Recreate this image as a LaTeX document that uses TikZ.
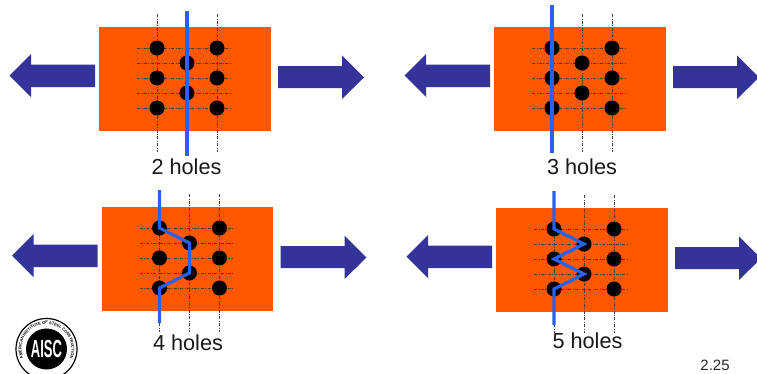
\documentclass[tikz,border=0pt]{standalone}
\usepackage{fontspec}
\setmainfont{Liberation Sans}
\usetikzlibrary{decorations.text}
\definecolor{plate}{RGB}{255,88,0}
\definecolor{force}{RGB}{51,51,153}
\definecolor{cut}{RGB}{40,96,240}
\tikzset{
  platebox/.style={fill=plate,minimum width=171.5pt,minimum height=104pt,inner sep=0pt,outer sep=0pt},
  hole/.style={circle,fill=black,minimum size=15pt,inner sep=0pt,outer sep=0pt},
  gridline/.style={black!75,line width=0.5pt,dash pattern=on 3pt off 1.5pt on 0.8pt off 1.5pt},
  cutline/.style={cut,line width=3.2pt,line join=miter},
  forcearrow/.style={force,fill=force,draw=none},
  caption/.style={font=\fontsize{21.7pt}{24pt}\selectfont,inner sep=0pt,text=black!90}
}
\begin{document}
\begin{tikzpicture}[x=1pt,y=-1pt]
\useasboundingbox (0,0) rectangle (757,373);
% the four plates, (\ox,\oy) is the top left corner of the plate
\foreach \n/\ox/\oy/\txt/\tx/\ty in {a/99/27/2 holes/186.5/167,b/494/27/3 holes/582/166.5,c/101.5/207/4 holes/188/343,d/496/208/5 holes/587.5/341}{
  \begin{scope}[shift={(\ox,\oy)}]
    \node[platebox,anchor=north west] (plate\n) at (0,0) {};
    % tension arrows
    \fill[forcearrow] (-4,37.5) -- (-68,37.5) -- (-68,27) -- (-89.5,48.5) -- (-68,70) -- (-68,60) -- (-4,60) -- cycle;
    \fill[forcearrow] (179,39) -- (243,39) -- (243,28.5) -- (265,50.5) -- (243,72) -- (243,61) -- (179,61) -- cycle;
    % gage and bolt lines
    \foreach \cx in {58,88,118}
      \draw[gridline] (\cx,-13) -- (\cx,125);
    \foreach \ry in {21,36,51,66,81}
      \draw[gridline] (38,\ry) -- (133,\ry);
    % holes
    \foreach \cx/\col in {58/1,118/3}
      \foreach \ry/\row in {21/1,51/3,81/5}
        \node[hole] (\n\col\row) at (\cx,\ry) {};
    \node[hole] (\n22) at (88,36) {};
    \node[hole] (\n24) at (88,66) {};
  \end{scope}
  \node[caption] (label\n) at (\tx,\ty) {\txt};
}
% failure paths
\coordinate (atop) at (187,11);
\coordinate (abot) at (187,156);
\coordinate (btop) at (552,5);
\coordinate (bbot) at (552,153);
\coordinate (ctop) at (159.5,190);
\coordinate (cbot) at (159.5,323);
\coordinate (dtop) at (554,191);
\coordinate (dbot) at (554,325);
\draw[cutline] (atop) -- (a22.center) -- (a24.center) -- (abot);
\draw[cutline] (btop) -- (b11.center) -- (b13.center) -- (b15.center) -- (bbot);
\draw[cutline] (ctop) -- (c11.center) -- (c22.center) -- (c24.center) -- (c15.center) -- (cbot);
\draw[cutline] (dtop) -- (d11.center) -- (d22.center) -- (d13.center) -- (d24.center) -- (d15.center) -- (dbot);
% logo
\node[circle,draw=black,line width=1.2pt,fill=white,minimum size=61pt,inner sep=0pt] (logo) at (46.5,349) {};
\node[circle,fill=black,minimum size=41pt,inner sep=0pt] (logoin) at (46.5,349) {};
\node[text=white,font=\bfseries\fontsize{13pt}{13pt}\selectfont,inner sep=0pt,yscale=1.9,transform shape] (logotxt) at (46.5,349) {AISC};
\begin{scope}[shift={(46.5,349)},y=1pt]
  \path[decorate,decoration={text along path,text align=center,text={|\fontsize{4pt}{4pt}\selectfont\bfseries|AMERICAN INSTITUTE OF STEEL CONSTRUCTION}}] (205:25) arc (205:-25:25);
\end{scope}
\node[inner sep=0pt,font=\fontsize{15pt}{17pt}\selectfont,text=black!85] (pageno) at (715,365) {2.25};
\end{tikzpicture}
\end{document}
